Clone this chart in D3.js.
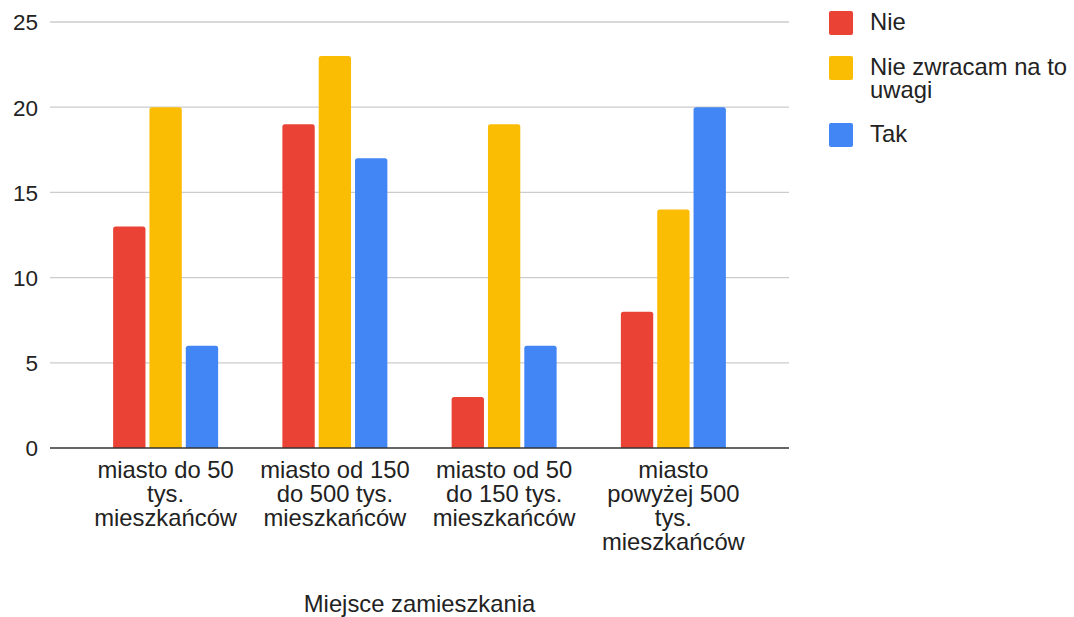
<!DOCTYPE html>
<html>
<head>
<meta charset="utf-8">
<script src="https://cdn.jsdelivr.net/npm/d3@7"></script>
<style>
  html, body { margin: 0; padding: 0; background: #fff; }
  svg { display: block; font-family: "Liberation Sans", Arial, sans-serif; }
</style>
</head>
<body>
<svg id="chart" width="1074" height="617"></svg>
<script>
const categories = [
  ["miasto do 50", "tys.", "mieszkańców"],
  ["miasto od 150", "do 500 tys.", "mieszkańców"],
  ["miasto od 50", "do 150 tys.", "mieszkańców"],
  ["miasto", "powyżej 500", "tys.", "mieszkańców"]
];
const seriesNames = ["Nie", "Nie zwracam na to uwagi", "Tak"];
const legendLines = [["Nie"], ["Nie zwracam na to", "uwagi"], ["Tak"]];
const nieValues = [13, 19, 3, 8];
const nieZwracamValues = [20, 23, 19, 14];
const takValues = [6, 17, 6, 20];
const yTicks = [0, 5, 10, 15, 20, 25];
const colors = ["#EA4335", "#FBBC04", "#4285F4"];
const xTitle = "Miejsce zamieszkania";

const seriesValues = [nieValues, nieZwracamValues, takValues];
const svg = d3.select("#chart");
const textSize = 23.8;

const plotLeft = 50, plotRight = 789;
const y = d3.scaleLinear().domain([0, 25]).range([448, 22]);
const x0 = d3.scaleBand().domain(d3.range(categories.length)).range([81, 758]).padding(0);
const x1 = d3.scaleBand().domain(d3.range(seriesNames.length)).range([-52.5, 52.5]).paddingInner(0.11);

// gridlines
svg.append("g").selectAll("line").data(yTicks.filter(d => d !== 0)).join("line")
  .attr("x1", plotLeft).attr("x2", plotRight)
  .attr("y1", d => y(d)).attr("y2", d => y(d))
  .attr("stroke", "#cccccc").attr("stroke-width", 1.3);

// y axis labels
const yAxis = d3.axisLeft(y).tickValues(yTicks).tickSize(0).tickPadding(0);
const yg = svg.append("g").attr("transform", "translate(38,0)").call(yAxis);
yg.select(".domain").remove();
yg.selectAll("text").attr("font-size", 22.5).attr("fill", "#222").attr("dy", "0.35em")
  .attr("font-family", "'Liberation Sans', Arial, sans-serif");

// bars with rounded tops
function barPath(xl, w, yt, yb, r) {
  r = Math.min(r, w / 2, (yb - yt));
  return `M${xl},${yb}V${yt + r}Q${xl},${yt} ${xl + r},${yt}H${xl + w - r}Q${xl + w},${yt} ${xl + w},${yt + r}V${yb}Z`;
}
const bars = [];
seriesValues.forEach((vals, s) => vals.forEach((v, c) => bars.push({s, c, v})));
svg.append("g").selectAll("path").data(bars).join("path")
  .attr("d", d => {
    const cx = x0(d.c) + x0.bandwidth() / 2;
    return barPath(cx + x1(d.s), x1.bandwidth(), y(d.v), y(0), 2.5);
  })
  .attr("fill", d => colors[d.s]);

// x axis baseline
svg.append("line").attr("x1", plotLeft).attr("x2", plotRight)
  .attr("y1", y(0)).attr("y2", y(0)).attr("stroke", "#333").attr("stroke-width", 1.5);

// category labels
const xAxis = d3.axisBottom(x0).tickSize(0).tickFormat(() => "");
const xg = svg.append("g").attr("transform", `translate(0,${y(0)})`).call(xAxis);
xg.select(".domain").remove();
xg.selectAll(".tick").each(function(d) {
  const t = d3.select(this).select("text").attr("y", 0).attr("dy", 0)
    .attr("font-size", textSize).attr("fill", "#222").attr("text-anchor", "middle");
  categories[d].forEach((line, i) => {
    t.append("tspan").attr("x", 0).attr("y", 30 + i * 24).text(line);
  });
});

// x title
svg.append("text").attr("x", (plotLeft + plotRight) / 2).attr("y", 612)
  .attr("text-anchor", "middle").attr("font-size", textSize).attr("fill", "#222").text(xTitle);

// legend
const legendTops = [11, 56, 123];
const lg = svg.append("g");
legendLines.forEach((lines, i) => {
  lg.append("rect").attr("x", 829).attr("y", legendTops[i]).attr("width", 24).attr("height", 24)
    .attr("rx", 2).attr("fill", colors[i]);
  const t = lg.append("text").attr("font-size", textSize).attr("fill", "#222");
  lines.forEach((line, k) => {
    t.append("tspan").attr("x", 870).attr("y", legendTops[i] + 19 + k * 23).text(line);
  });
});
</script>
</body>
</html>
